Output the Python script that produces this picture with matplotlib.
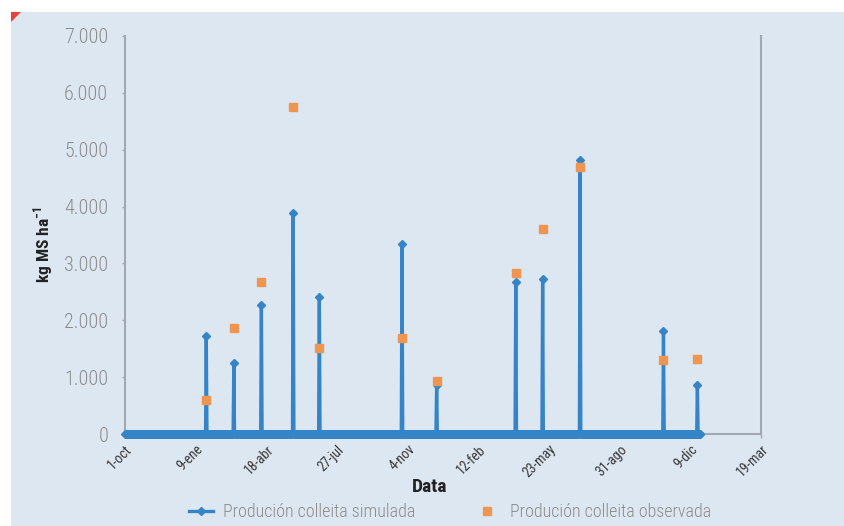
import numpy as np
import pandas as pd
import matplotlib
matplotlib.use('Agg')
import matplotlib.pyplot as plt
from matplotlib.patches import Rectangle, Polygon
from matplotlib.lines import Line2D

# harvest dates and values (kg MS ha-1)
harvest_dates = ['2012-01-24', '2012-03-03', '2012-04-11', '2012-05-26', '2012-07-02',
                 '2012-10-27', '2012-12-15', '2013-04-06', '2013-05-14', '2013-07-06',
                 '2013-11-01', '2013-12-19']
simulated = [1716, 1257, 2275, 3891, 2416, 3345, 864, 2668, 2733, 4819, 1816, 858]
observed = [594, 1869, 2668, 5754, 1511, 1687, 935, 2827, 3603, 4696, 1293, 1311]

sim_start = '2011-10-01'
sim_end = '2013-12-23'
tick_dates = ['2011-10-01', '2012-01-09', '2012-04-18', '2012-07-27', '2012-11-04',
              '2013-02-12', '2013-05-23', '2013-08-31', '2013-12-09', '2014-03-19']
tick_labels = ['1-oct', '9-ene', '18-abr', '27-jul', '4-nov', '12-feb', '23-may',
               '31-ago', '9-dic', '19-mar']
yticks = [0, 1000, 2000, 3000, 4000, 5000, 6000, 7000]
ytick_labels = ['0', '1.000', '2.000', '3.000', '4.000', '5.000', '6.000', '7.000']

blue = '#3484c7'
orange = '#ef9550'
panel = '#dde7f1'
spine = '#a3a8b0'

plt.rcParams['font.family'] = ['Roboto Condensed', 'Roboto', 'DejaVu Sans']

W, H = 844, 526
fig = plt.figure(figsize=(W / 100, H / 100), dpi=100)
fig.patch.set_facecolor('white')

# background panel and red corner
fig.patches.append(Rectangle((11 / W, 0), 1 - 11 / W, 1 - 12 / H, transform=fig.transFigure,
                             facecolor=panel, edgecolor='none', zorder=-10))
fig.patches.append(Polygon([(11 / W, 1 - 12 / H), (21 / W, 1 - 12 / H), (11 / W, 1 - 22 / H)],
                           closed=True, transform=fig.transFigure, facecolor='#e8423a',
                           edgecolor='none', zorder=-9))

ax = fig.add_axes([125 / W, 1 - 434 / H, (761 - 125) / W, (434 - 36) / H])
ax.set_facecolor('none')

# daily simulated series: zero except on harvest days
days = pd.date_range(sim_start, sim_end, freq='D')
sim = pd.Series(0.0, index=days)
sim[pd.to_datetime(harvest_dates)] = simulated

ax.plot(sim.index, sim.values, color=blue, lw=2.4, marker='D', ms=4.5,
        mec=blue, mfc=blue, zorder=3, clip_on=False)
ax.plot(pd.to_datetime(harvest_dates), observed, ls='none', marker='s', ms=5.5,
        color=orange, zorder=4, clip_on=False)

ax.set_xlim(pd.Timestamp(tick_dates[0]), pd.Timestamp(tick_dates[-1]))
ax.set_ylim(0, 7000)
ax.set_xticks(pd.to_datetime(tick_dates))
ax.set_xticklabels(tick_labels, rotation=45, ha='right', va='top', rotation_mode='anchor',
                   fontsize=10, color='#3a3a3a')
ax.set_yticks(yticks)
ax.set_yticklabels(ytick_labels, fontsize=14.5, color='#8c8c8c', fontweight='light')
ax.tick_params(axis='y', length=2, width=1, color=spine, pad=10)
ax.tick_params(axis='x', length=3, width=1, color=spine, pad=3)

ax.spines['top'].set_visible(False)
for s in ['left', 'right', 'bottom']:
    ax.spines[s].set_color(spine)
    ax.spines[s].set_linewidth(1.5)

fig.text(430 / W, 1 - 487 / H, 'Data', ha='center', va='center', fontsize=14,
         fontweight='bold', color='#222222')
fig.text(43 / W, 1 - 245 / H, 'kg MS ha$^{\\mathregular{-1}}$', ha='center', va='center',
         rotation=90, fontsize=12.5, fontweight='bold', color='#222222')

handles = [Line2D([], [], color=blue, lw=2.4, marker='D', ms=4.5),
           Line2D([], [], color=orange, ls='none', marker='s', ms=5.5)]
fig.legend(handles, ['Produción colleita simulada', 'Produción colleita observada'],
           loc='center', bbox_to_anchor=(450 / W, 1 - 512 / H), ncol=2, frameon=False,
           labelcolor='#8c8c8c', handlelength=1.3, handletextpad=0.6,
           columnspacing=3.3, prop={'weight': 'light', 'size': 13})

fig.savefig('out.png', dpi=100, facecolor=fig.get_facecolor())
